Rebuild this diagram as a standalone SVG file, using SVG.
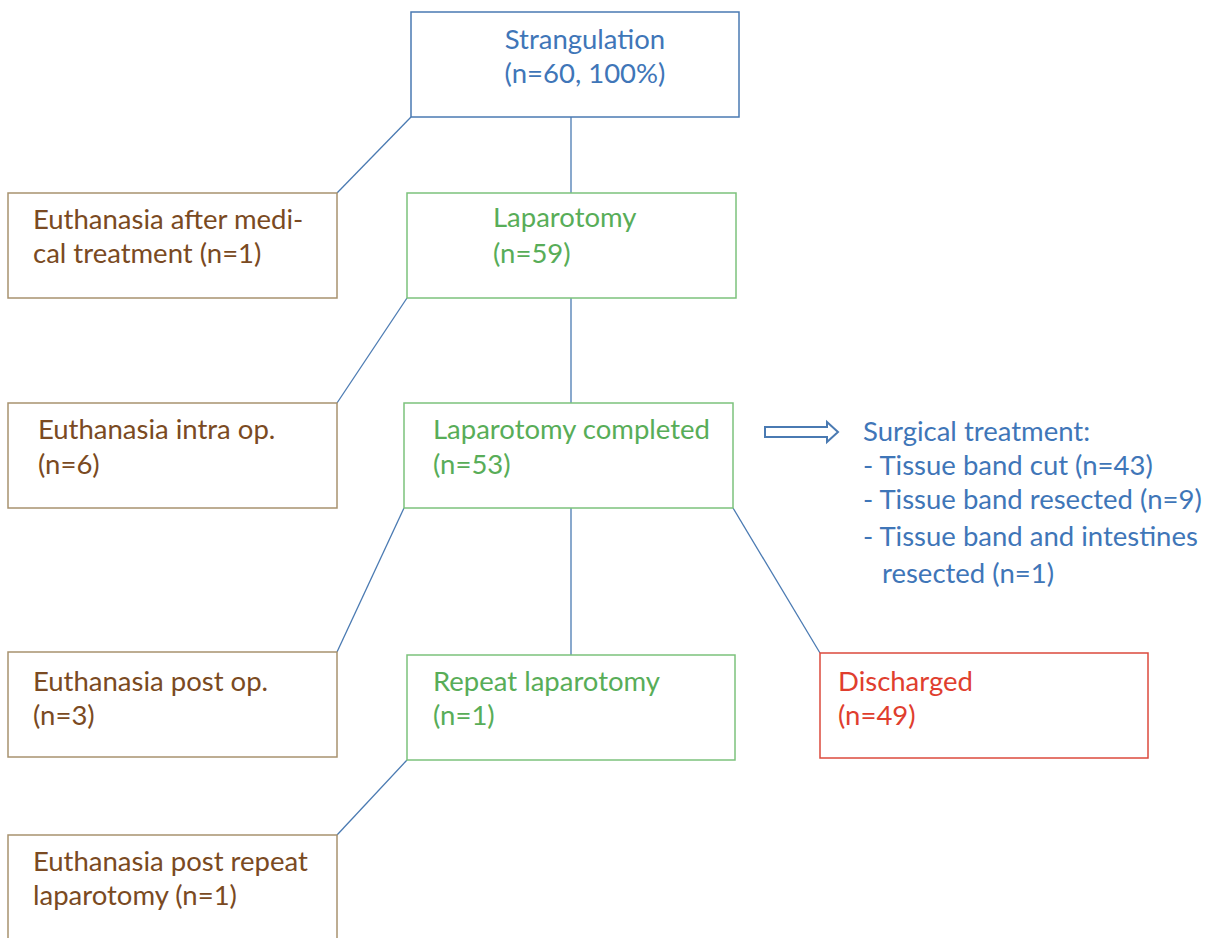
<svg xmlns="http://www.w3.org/2000/svg" width="1205" height="938" viewBox="0 0 1205 938">
<style>
text{font-family:Lato,"Open Sans","Liberation Sans",sans-serif;font-size:27.5px}
.box{fill:#fff;stroke-width:1.5}
.b{stroke:#4a7ab2}.bt{fill:#3f76b8}
.g{stroke:#7cc27c}.gt{fill:#58ad58}
.br{stroke:#a8926f}.brt{fill:#7a4a22}
.r{stroke:#dc4a3c}.rt{fill:#e03e2e}
.c line{stroke:#4a7ab2;stroke-width:1.3}
</style>
<rect width="1205" height="938" fill="#fff"/>
<g class="c" id="connectors">
<line x1="571" y1="117" x2="571" y2="193"/>
<line x1="411" y1="117" x2="337" y2="193"/>
<line x1="571" y1="298" x2="571" y2="403"/>
<line x1="407" y1="298" x2="337" y2="403"/>
<line x1="571" y1="508" x2="571" y2="655"/>
<line x1="404" y1="508" x2="337" y2="652"/>
<line x1="733" y1="508" x2="820" y2="653"/>
<line x1="407" y1="760" x2="337" y2="835"/>
<path d="M765 427 H827 V422 L838 432 L827 442 V437 H765 Z" fill="#fff" stroke="#4a7ab2" stroke-width="2" stroke-linejoin="miter"/>
</g>
<g id="strangulation">
<rect class="box b" x="411" y="12" width="328" height="105"/>
<text class="bt" x="585" y="49" text-anchor="middle">Strangulation</text>
<text class="bt" x="585" y="83" text-anchor="middle">(n=60, 100%)</text>
</g>
<g id="euth-medical">
<rect class="box br" x="8" y="193" width="329" height="105"/>
<text class="brt" x="33" y="229">Euthanasia after medi-</text>
<text class="brt" x="33" y="263">cal treatment (n=1)</text>
</g>
<g id="laparotomy">
<rect class="box g" x="407" y="193" width="329" height="105"/>
<text class="gt" x="493" y="227">Laparotomy</text>
<text class="gt" x="493" y="263">(n=59)</text>
</g>
<g id="euth-intra">
<rect class="box br" x="8" y="403" width="329" height="105"/>
<text class="brt" x="38" y="439">Euthanasia intra op.</text>
<text class="brt" x="38" y="474">(n=6)</text>
</g>
<g id="lap-completed">
<rect class="box g" x="404" y="403" width="329" height="105"/>
<text class="gt" x="433" y="439">Laparotomy completed</text>
<text class="gt" x="433" y="474">(n=53)</text>
</g>
<g id="surgical">
<text class="bt" x="863" y="441">Surgical treatment:</text>
<text class="bt" x="863" y="475">- Tissue band cut (n=43)</text>
<text class="bt" x="863" y="509">- Tissue band resected (n=9)</text>
<text class="bt" x="863" y="546">- Tissue band and intestines</text>
<text class="bt" x="882" y="583">resected (n=1)</text>
</g>
<g id="euth-postop">
<rect class="box br" x="8" y="652" width="329" height="105"/>
<text class="brt" x="33" y="691">Euthanasia post op.</text>
<text class="brt" x="33" y="725">(n=3)</text>
</g>
<g id="repeat-lap">
<rect class="box g" x="407" y="655" width="328" height="105"/>
<text class="gt" x="433" y="691">Repeat laparotomy</text>
<text class="gt" x="433" y="725">(n=1)</text>
</g>
<g id="discharged">
<rect class="box r" x="820" y="653" width="328" height="105"/>
<text class="rt" x="838" y="691">Discharged</text>
<text class="rt" x="838" y="725">(n=49)</text>
</g>
<g id="euth-repeat">
<rect class="box br" x="8" y="835" width="329" height="110"/>
<text class="brt" x="33" y="871">Euthanasia post repeat</text>
<text class="brt" x="33" y="905">laparotomy (n=1)</text>
</g>
</svg>
